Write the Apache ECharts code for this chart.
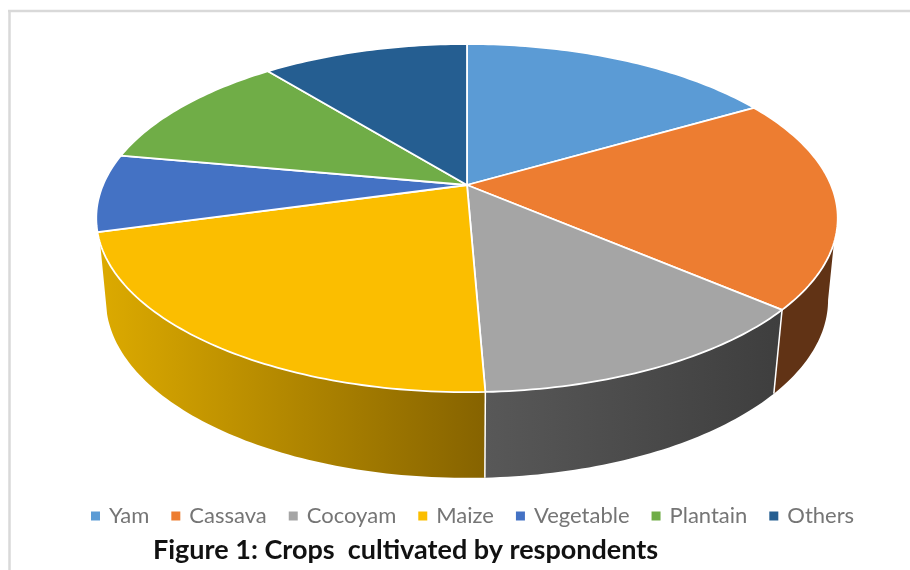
<!DOCTYPE html>
<html>
<head>
<meta charset="utf-8">
<style>html,body{margin:0;padding:0;background:#fff}#chart{width:910px;height:570px}</style>
<script src="https://cdn.jsdelivr.net/npm/echarts@6/dist/echarts.min.js"></script>
</head>
<body>
<div id="chart"></div>
<script>
// Share of respondents per crop, in percent
const crops = ['Yam', 'Cassava', 'Cocoyam', 'Maize', 'Vegetable', 'Plantain', 'Others'];
const shares = [16.6, 19.7, 13.05, 21.35, 7.2, 11.3, 10.8];
const topColors = ['#5B9BD5', '#ED7D31', '#A5A5A5', '#FBBE00', '#4472C4', '#70AD47', '#255E91'];
const wallStops = [null, ['#613315', '#613315'], ['#585858', '#3e3e3e'], ['#dcaa00', '#866300'], null, null, null];
const figureTitle = 'Figure 1: Crops  cultivated by respondents';

// Perspective projection of the pie's disc; the top and bottom planes share one tilt
const TILT = -0.19;
const CX = 467;
const TOP = { a: 364, b: 167.8, y0: 185 };
const BOTTOM = { a: 354.5, b: 171.6, y0: 266 };
// Clock angles (degrees) where each disc meets the side silhouette
const TOP_LIMITS = [109, 251];
const BOTTOM_LIMITS = [101, 259];

const total = shares.reduce((s, v) => s + v, 0);
const starts = [];
shares.reduce((acc, v, i) => { starts[i] = acc / total * 360; return acc + v; }, 0);

function project(plane, deg) {
  const t = deg * Math.PI / 180;
  const x = Math.sin(t), y = -Math.cos(t);
  const w = 1 + TILT * y;
  return [CX + plane.a * x / w, plane.y0 + plane.b * y / w];
}

function arc(plane, from, to) {
  const n = Math.max(2, Math.ceil(Math.abs(to - from)));
  const pts = [];
  for (let i = 0; i <= n; i++) pts.push(project(plane, from + (to - from) * i / n));
  return pts;
}

function renderSlice(index) {
  return function (params, api) {
    const from = starts[index];
    const to = from + api.value(0) / total * 360;
    const children = [];

    if (wallStops[index]) {
      const topArc = arc(TOP, Math.max(from, TOP_LIMITS[0]), Math.min(to, TOP_LIMITS[1]));
      const bottomArc = arc(BOTTOM, Math.min(to, BOTTOM_LIMITS[1]), Math.max(from, BOTTOM_LIMITS[0]));
      children.push({
        type: 'polygon',
        z2: 1,
        shape: { points: topArc.concat(bottomArc) },
        style: {
          fill: {
            type: 'linear', x: 0, y: 0, x2: 1, y2: 0,
            colorStops: [
              { offset: 0, color: wallStops[index][0] },
              { offset: 1, color: wallStops[index][1] }
            ]
          }
        }
      });
      if (from > TOP_LIMITS[0]) {
        const p = project(TOP, from), q = project(BOTTOM, from);
        children.push({
          type: 'line',
          z2: 2,
          shape: { x1: p[0], y1: p[1], x2: q[0], y2: q[1] },
          style: { stroke: '#fff', lineWidth: 1.5 }
        });
      }
    }

    children.push({
      type: 'polygon',
      z2: 3,
      shape: { points: [[CX, TOP.y0]].concat(arc(TOP, from, to)) },
      style: { fill: topColors[index], stroke: '#fff', lineWidth: 1.8, lineJoin: 'round' }
    });
    return { type: 'group', children: children };
  };
}

const chart = echarts.init(document.getElementById('chart'), null, { renderer: 'canvas' });
chart.setOption({
  animation: false,
  backgroundColor: '#fff',
  title: {
    text: figureTitle,
    left: 153,
    top: 537,
    padding: 0,
    textStyle: { fontFamily: 'Lato', fontWeight: 'bold', fontSize: 27, color: '#111' }
  },
  legend: {
    left: 91,
    top: 505,
    padding: 0,
    icon: 'rect',
    itemWidth: 9,
    itemHeight: 9,
    itemGap: 22,
    selectedMode: false,
    data: crops,
    textStyle: { fontFamily: 'Lato', fontSize: 22, color: '#757575', padding: [0, 0, 0, 4] }
  },
  graphic: [
    { type: 'line', shape: { x1: 8, y1: 11, x2: 910, y2: 11 }, style: { stroke: '#d9d9d9', lineWidth: 2.5 }, silent: true },
    { type: 'line', shape: { x1: 9.5, y1: 10, x2: 9.5, y2: 570 }, style: { stroke: '#d9d9d9', lineWidth: 2.5 }, silent: true }
  ],
  series: crops.map((name, i) => ({
    type: 'custom',
    name: name,
    coordinateSystem: 'none',
    silent: true,
    itemStyle: { color: topColors[i] },
    data: [[shares[i]]],
    renderItem: renderSlice(i)
  }))
});
</script>
</body>
</html>
